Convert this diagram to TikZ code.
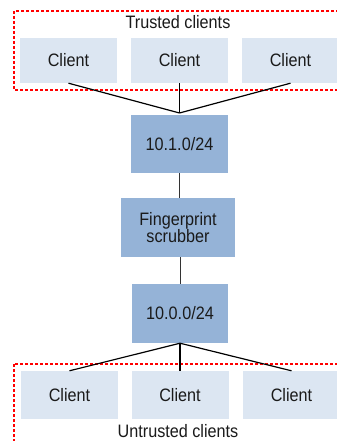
\documentclass[tikz,border=0pt]{standalone}
\usepackage{fontspec}
\setmainfont{Liberation Sans}[FakeStretch=0.9]
\definecolor{clientfill}{HTML}{DCE6F2}
\definecolor{netfill}{HTML}{95B3D7}
\definecolor{txt}{HTML}{1A1A1A}
\begin{document}
\begin{tikzpicture}[x=1bp,y=-1bp,
  every node/.style={font=\fontsize{18bp}{16.5bp}\selectfont, text=txt, inner sep=0pt},
  clientbox/.style={fill=clientfill, minimum width=97bp, minimum height=45bp},
  netbox/.style={fill=netfill, minimum width=97bp, minimum height=58bp, align=center},
  group/.style={draw=red, dashed, dash pattern=on 3bp off 2bp, line width=1.1bp},
  link/.style={draw=black, line width=1.2bp},
  mainlink/.style={draw=black, line width=1.8bp},
  thinlink/.style={draw=black!80, line width=1bp}]
\useasboundingbox (0,0) rectangle (336,441);
\fill[white] (0,0) rectangle (336,441);
% groups
\draw[group] (14,11) rectangle (350,90);
\draw[group] (14,364) rectangle (350,460);
\node (tl) at (178,22) {Trusted clients};
\node (ul) at (178,431) {Untrusted clients};
% top clients
\node[clientbox] (c1) at (68.5,60.5) {Client};
\node[clientbox] (c2) at (179.5,60.5) {Client};
\node[clientbox] (c3) at (290.5,60.5) {Client};
\coordinate (apex) at (179.5,113);
% network boxes
\node[netbox] (n1) at (179.5,144) {10.1.0/24};
\node[netbox, minimum width=114bp, minimum height=59bp] (fp) at (178,227.5) {Fingerprint\\scrubber};
\node[netbox, minimum width=96bp, minimum height=59bp] (n0) at (180,313.5) {10.0.0/24};
% bottom clients
\node[clientbox, minimum height=48bp] (b1) at (69.5,395) {Client};
\node[clientbox, minimum height=48bp] (b2) at (180,395) {Client};
\node[clientbox, minimum height=48bp] (b3) at (291.5,395) {Client};
% connectors
\draw[link] (c1.south) -- (apex);
\draw[mainlink] (c2.south) -- (apex);
\draw[link] (c3.south) -- (apex);
\draw[thinlink] (n1.south) -- (fp.north -| n1.south);
\draw[thinlink] (fp.south -| n0.north) -- (n0.north);
\draw[link] (n0.south) -- (b1.north);
\draw[mainlink] (n0.south) -- (b2.north);
\draw[link] (n0.south) -- (b3.north);
\end{tikzpicture}
\end{document}
